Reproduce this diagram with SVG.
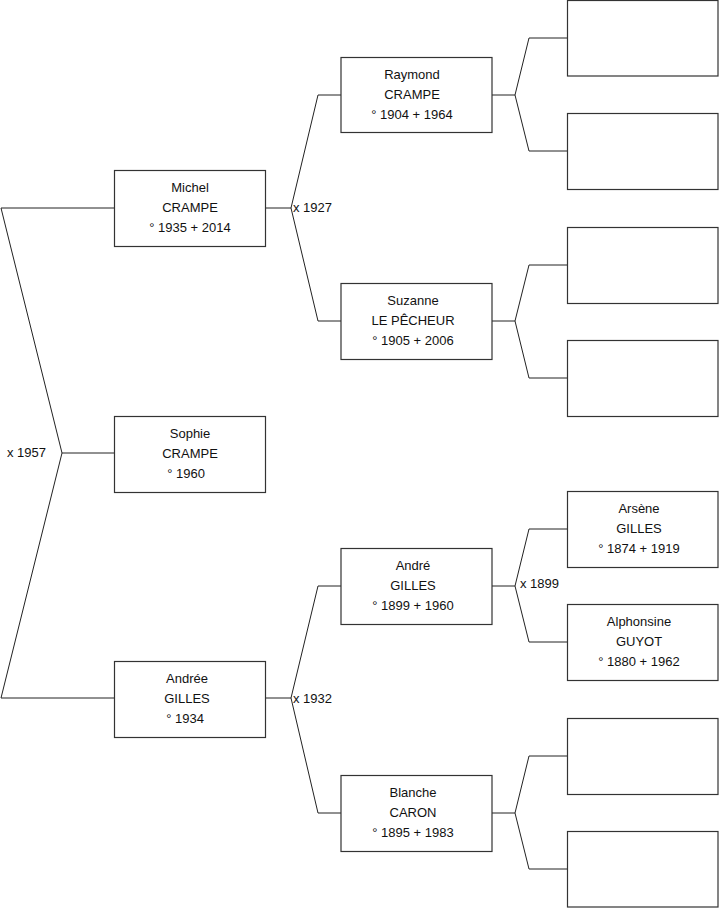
<svg xmlns="http://www.w3.org/2000/svg" width="719" height="908" viewBox="0 0 719 908">
<style>
.box{fill:#fff;stroke:#333;stroke-width:1.2}
.ln{fill:none;stroke:#222;stroke-width:1}
text{font-family:"Liberation Sans",Arial,sans-serif;font-size:13px;fill:#111}
.c{text-anchor:middle}
</style>
<rect width="719" height="908" fill="#fff"/>
<g id="connectors">
<polyline class="ln" points="114,208 1,208 62,453 1,698 114,698"/>
<line class="ln" x1="62" y1="453" x2="114" y2="453"/>
<polyline class="ln" points="341,95 318,95 291,208 318,321 341,321"/>
<line class="ln" x1="265" y1="208" x2="291" y2="208"/>
<polyline class="ln" points="341,586 318,586 291,698 318,813 341,813"/>
<line class="ln" x1="265" y1="698" x2="291" y2="698"/>
<polyline class="ln" points="567,38 529,38 515,95 529,151 567,151"/>
<line class="ln" x1="492" y1="95" x2="515" y2="95"/>
<polyline class="ln" points="567,265 529,265 515,321 529,378 567,378"/>
<line class="ln" x1="492" y1="321" x2="515" y2="321"/>
<polyline class="ln" points="567,529 529,529 515,586 529,642 567,642"/>
<line class="ln" x1="492" y1="586" x2="515" y2="586"/>
<polyline class="ln" points="567,756 529,756 515,813 529,869 567,869"/>
<line class="ln" x1="492" y1="813" x2="515" y2="813"/>
<text x="7" y="457">x 1957</text>
<text x="293" y="212">x 1927</text>
<text x="293" y="703">x 1932</text>
<text x="520" y="588">x 1899</text>
</g>
<g id="michel"><rect class="box" x="114.5" y="170.5" width="151" height="76"/><text class="c" x="190" y="192">Michel</text><text class="c" x="190" y="212">CRAMPE</text><text class="c" x="190" y="232">° 1935 + 2014</text></g>
<g id="sophie"><rect class="box" x="114.5" y="416.5" width="151" height="76"/><text class="c" x="190" y="438">Sophie</text><text class="c" x="190" y="458">CRAMPE</text><text class="c" x="186" y="478">° 1960</text></g>
<g id="andree"><rect class="box" x="114.5" y="661.5" width="151" height="76"/><text class="c" x="187" y="683">Andrée</text><text class="c" x="187" y="703">GILLES</text><text class="c" x="185" y="723">° 1934</text></g>
<g id="raymond"><rect class="box" x="341" y="57.5" width="151" height="75"/><text class="c" x="412" y="79">Raymond</text><text class="c" x="412" y="99">CRAMPE</text><text class="c" x="412" y="119">° 1904 + 1964</text></g>
<g id="suzanne"><rect class="box" x="341" y="283.5" width="151" height="76"/><text class="c" x="413" y="305">Suzanne</text><text class="c" x="413" y="325">LE PÊCHEUR</text><text class="c" x="413" y="345">° 1905 + 2006</text></g>
<g id="andre"><rect class="box" x="341" y="548.5" width="151" height="76"/><text class="c" x="413" y="570">André</text><text class="c" x="413" y="590">GILLES</text><text class="c" x="413" y="610">° 1899 + 1960</text></g>
<g id="blanche"><rect class="box" x="341" y="775.5" width="151" height="76"/><text class="c" x="413" y="797">Blanche</text><text class="c" x="413" y="817">CARON</text><text class="c" x="413" y="837">° 1895 + 1983</text></g>
<g id="ggp1"><rect class="box" x="567.5" y="0.5" width="150.5" height="75.5"/></g>
<g id="ggp2"><rect class="box" x="567.5" y="113.5" width="150.5" height="76"/></g>
<g id="ggp3"><rect class="box" x="567.5" y="227.5" width="150.5" height="76"/></g>
<g id="ggp4"><rect class="box" x="567.5" y="340.5" width="150.5" height="76"/></g>
<g id="arsene"><rect class="box" x="567.5" y="491.5" width="150.5" height="76"/><text class="c" x="639" y="513">Arsène</text><text class="c" x="639" y="533">GILLES</text><text class="c" x="639" y="553">° 1874 + 1919</text></g>
<g id="alphonsine"><rect class="box" x="567.5" y="604.5" width="150.5" height="76"/><text class="c" x="639" y="626">Alphonsine</text><text class="c" x="639" y="646">GUYOT</text><text class="c" x="639" y="666">° 1880 + 1962</text></g>
<g id="ggp7"><rect class="box" x="567.5" y="718.5" width="150.5" height="76"/></g>
<g id="ggp8"><rect class="box" x="567.5" y="831.5" width="150.5" height="75.5"/></g>
</svg>
